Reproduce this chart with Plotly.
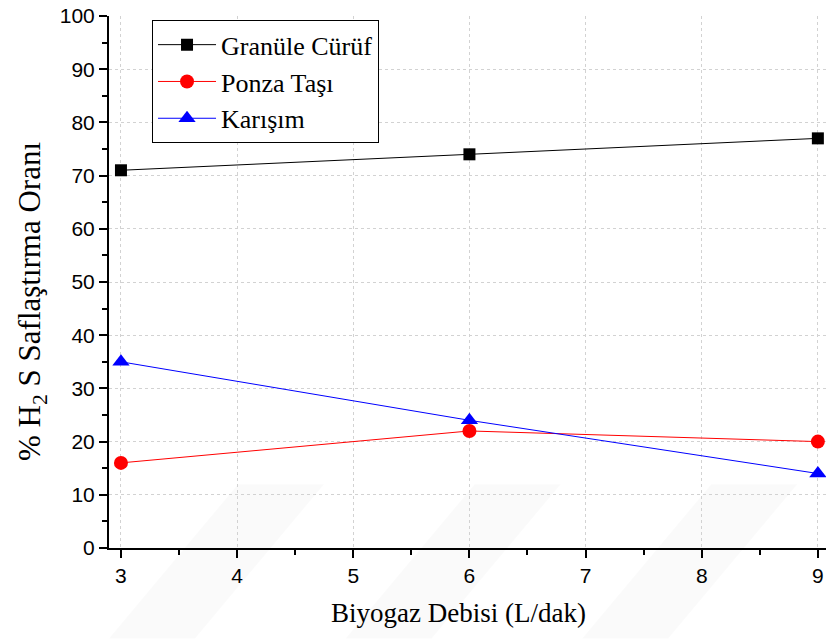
import plotly.graph_objects as go

x_vals = [3, 6, 9]
granule = [71, 74, 77]
ponza = [16, 22, 20]
karisim = [35, 24, 14]
names = ["Granüle Cürüf", "Ponza Taşı", "Karışım"]
x_title = "Biyogaz Debisi (L/dak)"
y_title = "% H<sub>2</sub> S Saflaştırma Oranı"

SERIF = "Liberation Serif"
SANS = "Liberation Sans"

fig = go.Figure()
fig.add_trace(go.Scatter(x=x_vals, y=granule, name=names[0], mode="lines+markers",
                         line=dict(color="black", width=1),
                         marker=dict(symbol="square", size=12, color="black")))
fig.add_trace(go.Scatter(x=x_vals, y=ponza, name=names[1], mode="lines+markers",
                         line=dict(color="red", width=1),
                         marker=dict(symbol="circle", size=14, color="red")))
fig.add_trace(go.Scatter(x=x_vals, y=karisim, name=names[2], mode="lines+markers",
                         line=dict(color="blue", width=1),
                         marker=dict(symbol="triangle-up", size=15, color="blue")))

# faint watermark bands
shapes = []
for x0 in [0.0, 0.33, 0.66]:
    shapes.append(dict(type="path", xref="paper", yref="paper", layer="below",
                       path=f"M {x0} -0.17 L {x0+0.12} -0.17 L {x0+0.30} 0.12 L {x0+0.18} 0.12 Z",
                       fillcolor="rgba(0,0,0,0.02)", line=dict(width=0)))

annotations = [
    dict(text=x_title, xref="paper", yref="paper", x=0.488, y=0, yshift=-65,
         xanchor="center", yanchor="middle", showarrow=False,
         font=dict(family=SERIF, size=27, color="black")),
    dict(text=y_title, xref="paper", yref="paper", x=0, xshift=-77, y=0.5, yshift=-20,
         xanchor="center", yanchor="middle", showarrow=False, textangle=-90,
         font=dict(family=SERIF, size=31, color="black")),
]

fig.update_layout(
    width=826, height=639,
    margin=dict(l=109, r=0, t=16, b=91),
    paper_bgcolor="white", plot_bgcolor="white",
    shapes=shapes,
    annotations=annotations,
    showlegend=True,
    legend=dict(x=0.06, y=0.992, xanchor="left", yanchor="top",
                bordercolor="black", borderwidth=1, bgcolor="white",
                font=dict(family=SERIF, size=26, color="black"),
                tracegroupgap=0, itemwidth=58),
    xaxis=dict(range=[2.897, 9.07], tickmode="linear", tick0=3, dtick=1,
               showline=True, linecolor="black", linewidth=2,
               ticks="outside", ticklen=8, tickwidth=2, tickcolor="black",
               minor=dict(ticks="outside", ticklen=5, tickwidth=2, tickcolor="black", dtick=0.5, showgrid=False),
               showgrid=True, gridcolor="#d2d2d2", griddash="dot", gridwidth=1,
               zeroline=False,
               tickfont=dict(family=SANS, size=21, color="black")),
    yaxis=dict(range=[0, 100], tickmode="linear", tick0=0, dtick=10,
               showline=True, linecolor="black", linewidth=2,
               ticks="outside", ticklen=8, tickwidth=2, tickcolor="black",
               minor=dict(ticks="outside", ticklen=5, tickwidth=2, tickcolor="black", dtick=5, showgrid=False),
               showgrid=True, gridcolor="#d2d2d2", griddash="dot", gridwidth=1,
               zeroline=False,
               tickfont=dict(family=SANS, size=21, color="black")),
)

fig.write_html("out.html")
